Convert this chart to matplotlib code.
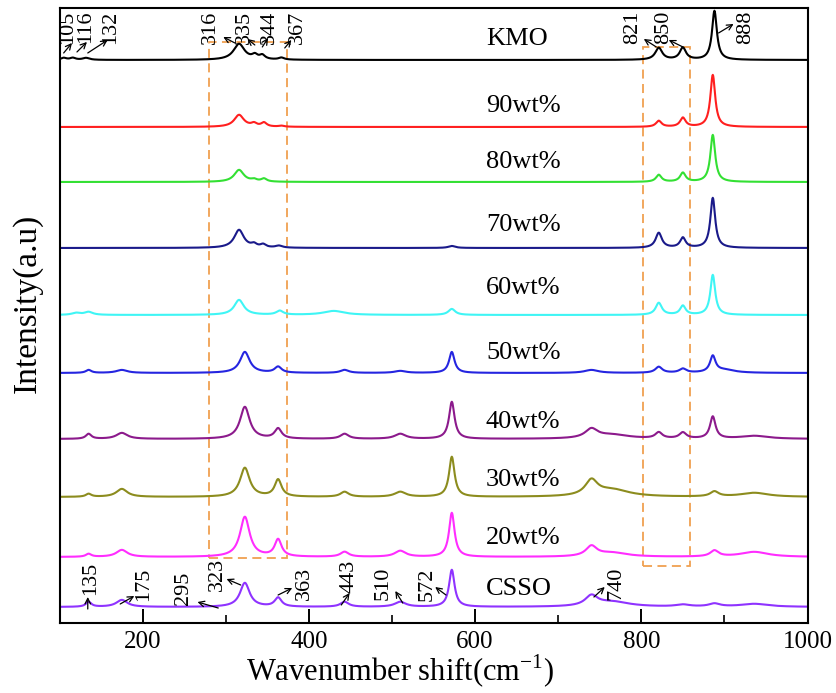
import numpy as np
import matplotlib
matplotlib.use('Agg')
import matplotlib.pyplot as plt
from matplotlib.patches import Rectangle
from matplotlib.ticker import MultipleLocator

plt.rcParams['font.family'] = ['Liberation Serif', 'DejaVu Serif']

# samples, top to bottom
samples = ['KMO', '90wt%', '80wt%', '70wt%', '60wt%', '50wt%', '40wt%', '30wt%', '20wt%', 'CSSO']
colors = ['#000000', '#ff1f1f', '#33e033', '#1a1a8a', '#3ff5f5', '#2525e0', '#8c1a8c', '#8c8c1e', '#ff2dff', '#8f33ff']
offsets = [563, 496, 441, 375, 308, 250, 184, 126, 66, 16]

# raman peaks: (position cm-1, height, half width)
kmo = [(105, 2, 4), (116, 2, 4), (132, 2, 5), (316, 16, 8), (335, 4, 4), (344, 4, 4), (367, 2, 4),
       (821, 12, 5), (850, 12, 4.5), (888, 49, 3.5)]
wt90 = [(316, 12, 7), (334, 3, 4), (346, 4, 4), (367, 1, 4), (821, 6, 4), (850, 9, 4), (886, 52, 3.5)]
wt80 = [(316, 12, 7), (334, 2, 4), (346, 3, 4), (821, 7, 4), (850, 9, 4), (886, 47, 3.5)]
wt70 = [(316, 18, 7), (334, 3, 4), (345, 3, 4), (364, 2, 5), (572, 2, 5), (821, 15, 4.5), (850, 10, 4),
        (886, 50, 3.5)]
wt60 = [(120, 2, 6), (135, 3, 6), (316, 15, 7), (365, 4, 5), (430, 4, 15), (572, 6, 5), (821, 12, 4.5),
        (850, 9, 4), (886, 40, 3.5)]
wt50 = [(135, 3, 4), (175, 3, 8), (323, 21, 7), (363, 6, 5), (443, 3, 6), (510, 2, 8), (572, 21, 4),
        (740, 3, 10), (821, 6, 5), (850, 4, 5), (886, 16, 4), (900, 3, 15)]
wt40 = [(135, 5, 4), (175, 6, 8), (323, 32, 7), (363, 10, 5), (443, 5, 6), (510, 5, 8), (572, 37, 4),
        (740, 9, 9), (765, 4, 25), (821, 6, 5), (850, 6, 5), (886, 22, 4), (936, 3, 20)]
wt30 = [(135, 3, 4), (175, 8, 8), (323, 29, 7), (363, 17, 5), (443, 5, 6), (510, 5, 8), (572, 40, 4),
        (740, 15, 9), (765, 7, 25), (888, 5, 6), (936, 4, 20)]
wt20 = [(135, 3, 4), (175, 7, 8), (323, 40, 7), (363, 17, 5), (443, 5, 6), (510, 6, 8), (572, 44, 4),
        (740, 10, 8), (765, 4, 22), (888, 6, 6), (936, 5, 20)]
csso = [(135, 5, 4), (175, 7, 8), (323, 24, 7), (363, 9, 5), (443, 5, 6), (510, 5, 8), (572, 37, 4),
        (740, 10, 9), (765, 5, 25), (850, 2, 10), (888, 3, 8), (936, 3, 20)]
peaks = [kmo, wt90, wt80, wt70, wt60, wt50, wt40, wt30, wt20, csso]

# sample name positions
name_x = [613] * 10
name_y = [584, 517, 461, 398, 335, 270, 201, 143, 85, 34]

# peak labels on the KMO curve (top) and the CSSO curve (bottom)
top_labels = ['105', '116', '132', '316', '335', '344', '367', '821', '850', '888']
top_x = [110, 131, 161, 281, 322, 353, 386, 790, 827, 926]
top_arrow_tail = [(105, 570), (121, 571), (134, 570), (311, 580), (335, 578), (344, 576), (371, 575),
                  (818, 576), (850, 576), (893, 590)]
top_arrow_head = [(115, 580), (133, 581), (158, 583), (297, 586), (326, 584), (351, 585), (379, 583),
                  (803, 584), (833, 583), (911, 599)]

bot_labels = ['135', '175', '295', '323', '363', '443', '510', '572', '740']
bot_x = [138, 201, 249, 290, 395, 448, 490, 542, 769]
bot_top = [61, 55, 51, 65, 56, 63, 56, 55, 56]
bot_arrow_tail = [(134, 14), (173, 19), (291, 15), (318, 38), (363, 28), (439, 18), (513, 20), (565, 28),
                  (743, 26)]
bot_arrow_head = [(134, 26), (190, 27), (266, 21), (301, 44), (380, 35), (449, 30), (504, 32), (552, 36),
                  (756, 36)]

# dashed boxes: (x0, x1, y0, y1)
boxes = [(280, 374, 65, 581), (802, 859, 57, 576)]

x = np.linspace(100, 1000, 1801)

fig = plt.figure(figsize=(8.37, 6.93), dpi=100)
ax = fig.add_axes([0.0711, 0.101, 0.8937, 0.8875])

for name, col, off, pl in zip(samples, colors, offsets, peaks):
    y = np.zeros_like(x)
    for c, h, w in pl:
        y += h * w**2 / ((x - c)**2 + w**2)
    ax.plot(x, y + off, color=col, lw=1.5)

for name, tx, ty in zip(samples, name_x, name_y):
    ax.text(tx, ty, name, fontsize=19, ha='left', va='center')

for lab, tx, t, h in zip(top_labels, top_x, top_arrow_tail, top_arrow_head):
    ax.text(tx, 612, lab, rotation=90, fontsize=16, ha='center', va='top')
    ax.annotate('', xy=h, xytext=t,
                arrowprops=dict(arrowstyle='->', lw=0.9, color='k', shrinkA=0, shrinkB=0, mutation_scale=10))

for lab, tx, ty, t, h in zip(bot_labels, bot_x, bot_top, bot_arrow_tail, bot_arrow_head):
    ax.text(tx, ty, lab, rotation=90, fontsize=16, ha='center', va='top')
    ax.annotate('', xy=h, xytext=t,
                arrowprops=dict(arrowstyle='->', lw=0.9, color='k', shrinkA=0, shrinkB=0, mutation_scale=10))

for x0, x1, y0, y1 in boxes:
    ax.add_patch(Rectangle((x0, y0), x1 - x0, y1 - y0, fill=False, ls=(0, (5, 3)),
                           lw=1.3, ec='#f0a050', zorder=1))

ax.set_xlim(100, 1000)
ax.set_ylim(0, 615)
ax.set_yticks([])
ax.xaxis.set_major_locator(MultipleLocator(200))
ax.xaxis.set_minor_locator(MultipleLocator(100))
ax.tick_params(axis='x', which='major', direction='in', length=10, width=1.4, labelsize=18, pad=6)
ax.tick_params(axis='x', which='minor', direction='in', length=6, width=1.2)
for s in ax.spines.values():
    s.set_linewidth(1.5)

ax.set_xlabel('Wavenumber shift(cm$^{\\mathregular{-1}}$)', fontsize=22, va='bottom')
ax.xaxis.set_label_coords(0.455, -0.109)
ax.set_ylabel('Intensity(a.u)', fontsize=24)
ax.yaxis.set_label_coords(-0.023, 0.52)

fig.savefig('out.png', dpi=100)
